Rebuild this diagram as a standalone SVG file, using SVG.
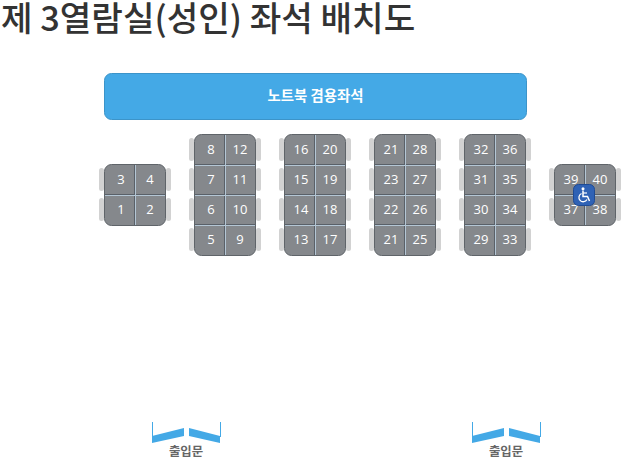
<svg xmlns="http://www.w3.org/2000/svg" width="628" height="464" viewBox="0 0 628 464">
<style>
text{font-family:"Noto Sans CJK KR","Noto Sans",sans-serif}
.title{font-size:34.300px;font-weight:500;fill:#333}
.bar{fill:#44a9e6;stroke:#3c94c9;stroke-width:1}
.barl{font-size:14.400px;font-weight:700;fill:#fff;text-anchor:middle}
.blk{fill:#85888c;stroke:#5f6469;stroke-width:1}
.pad{fill:#d2d2d2}
.dv{stroke:#b4c6d4;stroke-width:1;fill:none}
.dd{stroke:#5a6068;stroke-width:1;fill:none}
.n{font-family:"Open Sans","Noto Sans",sans-serif;font-size:13px;fill:#fff;text-anchor:middle}
.door{fill:#44a9e6}
.doorl{stroke:#44a9e6;stroke-width:1;fill:none}
.dl{font-size:12.400px;font-weight:700;fill:#666;text-anchor:middle}
</style>
<defs>
<g id="pad2"><rect class="pad" x="-5" y="4" width="5" height="23" rx="2.500"/><rect class="pad" x="-5" y="34" width="5" height="23" rx="2.500"/><rect class="pad" x="62" y="4" width="5" height="23" rx="2.500"/><rect class="pad" x="62" y="34" width="5" height="23" rx="2.500"/></g>
<g id="b2"><use href="#pad2"/><rect class="blk" x="0.5" y="0.5" width="61" height="61" rx="7"/><path class="dd" d="M1 30.5H61M30.5 1V61"/><path class="dv" d="M1 31.5H61M31.5 1V61"/></g>
<g id="b4"><use href="#pad2"/><use href="#pad2" y="60"/><rect class="blk" x="0.5" y="0.5" width="61" height="121" rx="7"/><path class="dd" d="M1 30.5H61M1 60.5H61M1 90.5H61M30.5 1V121"/><path class="dv" d="M1 31.5H61M1 61.5H61M1 91.5H61M31.5 1V121"/></g>
<g id="door"><polygon class="door" points="0,14 32,6 32,14 0,21"/><polygon class="door" points="37,6 68,14 68,21 37,14"/><path class="doorl" d="M.5 0V15M68.5 0V15"/></g>
</defs>
<text class="title" x="1" y="31">제 3열람실(성인) 좌석 배치도</text>
<g id="notebook-bar"><rect class="bar" x="104.500" y="73.500" width="422" height="46" rx="7"/><text class="barl" x="315.500" y="101">노트북 겸용좌석</text></g>
<g id="connectors"></g>
<g id="block-1" transform="translate(104 164)"><use href="#b2"/><text class="n" x="17" y="20">3</text><text class="n" x="46" y="20">4</text><text class="n" x="17" y="50">1</text><text class="n" x="46" y="50">2</text></g>
<g id="block-2" transform="translate(194 134)"><use href="#b4"/><text class="n" x="17" y="20">8</text><text class="n" x="46" y="20">12</text><text class="n" x="17" y="50">7</text><text class="n" x="46" y="50">11</text><text class="n" x="17" y="80">6</text><text class="n" x="46" y="80">10</text><text class="n" x="17" y="110">5</text><text class="n" x="46" y="110">9</text></g>
<g id="block-3" transform="translate(284 134)"><use href="#b4"/><text class="n" x="17" y="20">16</text><text class="n" x="46" y="20">20</text><text class="n" x="17" y="50">15</text><text class="n" x="46" y="50">19</text><text class="n" x="17" y="80">14</text><text class="n" x="46" y="80">18</text><text class="n" x="17" y="110">13</text><text class="n" x="46" y="110">17</text></g>
<g id="block-4" transform="translate(374 134)"><use href="#b4"/><text class="n" x="17" y="20">21</text><text class="n" x="46" y="20">28</text><text class="n" x="17" y="50">23</text><text class="n" x="46" y="50">27</text><text class="n" x="17" y="80">22</text><text class="n" x="46" y="80">26</text><text class="n" x="17" y="110">21</text><text class="n" x="46" y="110">25</text></g>
<g id="block-5" transform="translate(464 134)"><use href="#b4"/><text class="n" x="17" y="20">32</text><text class="n" x="46" y="20">36</text><text class="n" x="17" y="50">31</text><text class="n" x="46" y="50">35</text><text class="n" x="17" y="80">30</text><text class="n" x="46" y="80">34</text><text class="n" x="17" y="110">29</text><text class="n" x="46" y="110">33</text></g>
<g id="block-6" transform="translate(554 164)"><use href="#b2"/><text class="n" x="17" y="20">39</text><text class="n" x="46" y="20">40</text><text class="n" x="17" y="50">37</text><text class="n" x="46" y="50">38</text></g>
<g id="wheelchair" transform="translate(573 184)"><rect x="0.500" y="0.500" width="21" height="21" rx="5" fill="#2f62b5" stroke="#1f4b94"/><circle cx="10" cy="4.800" r="1.500" fill="#fff"/><path d="M10 6.500V12.500H14.500L16.500 17" fill="none" stroke="#fff" stroke-width="1.500"/><path d="M10 9H14" stroke="#fff" stroke-width="1.200"/><path d="M8.500 9.500A4.300 4.300 0 1 0 14 15.500" fill="none" stroke="#fff" stroke-width="1.300"/></g>
<g id="door-left"><use href="#door" x="152" y="422"/><text class="dl" x="186" y="456">출입문</text></g>
<g id="door-right"><use href="#door" x="472" y="422"/><text class="dl" x="506" y="456">출입문</text></g>
</svg>
